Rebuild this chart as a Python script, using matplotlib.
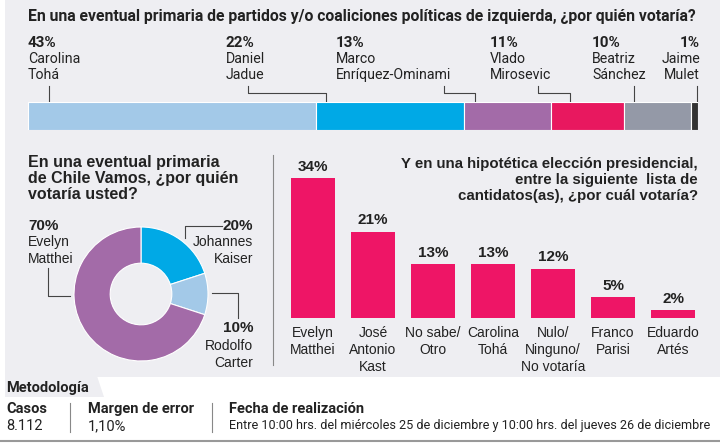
import matplotlib.pyplot as plt
from matplotlib.patches import Rectangle, Polygon

cond = ["Roboto", "DejaVu Sans"]
sf = ["Liberation Sans", "DejaVu Sans"]
plt.rcParams['font.family'] = cond

# top: primaria izquierda
izq_names = ["Carolina\nTohá", "Daniel\nJadue", "Marco\nEnríquez-Ominami",
             "Vlado\nMirosevic", "Beatriz\nSánchez", "Jaime\nMulet"]
izq_values = [43, 22, 13, 11, 10, 1]
izq_colors = ["#a3c9e8", "#00a9e6", "#a36ba8", "#e8185f", "#9499a7", "#333333"]

# donut: Chile Vamos
cv_names = ["Johannes\nKaiser", "Rodolfo\nCarter", "Evelyn\nMatthei"]
cv_values = [20, 10, 70]
cv_colors = ["#00a9e6", "#a3c9e8", "#a36ba8"]

# bars: presidencial
pres_names = ["Evelyn\nMatthei", "José\nAntonio\nKast", "No sabe/\nOtro", "Carolina\nTohá",
              "Nulo/\nNinguno/\nNo votaría", "Franco\nParisi", "Eduardo\nArtés"]
pres_values = [34, 21, 13, 13, 12, 5, 2]

W, H = 720, 446
txt = "#222222"
fig = plt.figure(figsize=(7.2, 4.46), dpi=100)

# background / overlay in pixel coords
ov = fig.add_axes([0, 0, 1, 1])
ov.set_xlim(0, W)
ov.set_ylim(H, 0)
ov.axis("off")
ov.add_patch(Rectangle((5, 0), W - 5, 377, color="#eeeef2", lw=0))
ov.add_patch(Polygon([(5, 376), (97, 376), (104, 397), (5, 397)], color="#eeeef2", lw=0))


def px(x, y, w, h):
    return [x / W, 1 - (y + h) / H, w / W, h / H]


# ---- top chart
ov.text(28, 17, "En una eventual primaria de partidos y/o coaliciones políticas de izquierda, ¿por quién votaría?",
        fontsize=11.3, fontweight="bold", color=txt, va="center")

ax1 = fig.add_axes(px(28, 102, 670, 28))
left = 0
for v, c in zip(izq_values, izq_colors):
    ax1.barh(0, v, left=left, color=c, height=1, edgecolor="white", linewidth=0.8)
    left += v
ax1.set_xlim(0, 100)
ax1.set_ylim(-0.5, 0.5)
ax1.axis("off")

lab_x = [28, 226, 336, 490, 592, 700]
lab_ha = ["left", "left", "left", "left", "left", "right"]
for name, v, x, ha in zip(izq_names, izq_values, lab_x, lab_ha):
    ov.text(x, 43, f"{v}%", fontsize=11, fontweight="bold", color=txt, ha=ha, va="center")
    ov.text(x, 52, name, fontsize=10.2, color=txt, ha=ha, va="top", linespacing=1.22)

lc = "#444444"
lw = 0.8
ov.plot([49, 49], [86, 101], color=lc, lw=lw)
ov.plot([248, 248, 326, 326], [86, 93, 93, 101], color=lc, lw=lw)
ov.plot([444, 444, 475, 475], [86, 93, 93, 101], color=lc, lw=lw)
ov.plot([538, 538, 570, 570], [86, 93, 93, 101], color=lc, lw=lw)
ov.plot([634, 634], [86, 101], color=lc, lw=lw)
ov.plot([697, 697], [86, 101], color=lc, lw=lw)

# ---- donut
ov.text(28, 155, "En una eventual primaria\nde Chile Vamos, ¿por quién\nvotaría usted?",
        fontsize=11.5, fontweight="bold", color=txt, va="top", linespacing=1.1, family=sf)
ax2 = fig.add_axes(px(141 - 67, 294 - 67, 134, 134))
ax2.pie(cv_values, colors=cv_colors, startangle=90, counterclock=False, radius=1,
        wedgeprops=dict(width=0.54, edgecolor="white", linewidth=0.8))
ax2.set_xlim(-1, 1)
ax2.set_ylim(-1, 1)

ov.text(28, 226, f"{cv_values[2]}%", fontsize=11, fontweight="bold", color=txt, va="center", family=sf)
ov.text(28, 235, cv_names[2], fontsize=10, color=txt, va="top", linespacing=1.25, family=sf)
ov.text(253, 226, f"{cv_values[0]}%", fontsize=11, fontweight="bold", color=txt, ha="right", va="center", family=sf)
ov.text(253, 235, cv_names[0], fontsize=10, color=txt, ha="right", va="top", linespacing=1.25, family=sf)
ov.text(253, 328, f"{cv_values[1]}%", fontsize=11, fontweight="bold", color=txt, ha="right", va="center", family=sf)
ov.text(253, 339, cv_names[1], fontsize=10, color=txt, ha="right", va="top", linespacing=1.25, family=sf)
ov.plot([48, 48, 70], [268, 296, 296], color=lc, lw=lw)
ov.plot([185, 185, 222], [238, 226, 226], color=lc, lw=lw)
ov.plot([212, 238, 238], [293, 293, 318], color=lc, lw=lw)

ov.plot([273, 273], [155, 365], color="#888888", lw=0.8)

# ---- presidential bars
ov.text(698, 157, "Y en una hipotética elección presidencial,\nentre la siguiente  lista de\ncantidatos(as), ¿por cuál votaría?",
        fontsize=10.8, fontweight="bold", color=txt, ha="right", va="top", linespacing=1.18, family=sf)
ax3 = fig.add_axes(px(283, 153.3, 420, 318 - 153.3))
xs = range(len(pres_values))
ax3.bar(xs, pres_values, width=0.733, color="#ee1566")
ax3.set_xlim(-0.5, len(pres_values) - 0.5)
ax3.set_ylim(0, 40)
ax3.axis("off")
for i, (v, name) in enumerate(zip(pres_values, pres_names)):
    ax3.annotate(f"{v}%", (i, v), xytext=(0, 3), textcoords="offset points", ha="center", va="bottom",
                 fontsize=11, fontweight="bold", color=txt, family=sf)
    ax3.annotate(name, (i, 0), xytext=(0, -6), textcoords="offset points", ha="center", va="top",
                 fontsize=10, color=txt, linespacing=1.25, family=sf, annotation_clip=False)

# ---- metodologia
ov.text(6, 388, "Metodología", fontsize=10.5, fontweight="bold", color=txt, va="center")
ov.text(6, 409, "Casos", fontsize=10.5, fontweight="bold", color=txt, va="center")
ov.text(6, 426, "8.112", fontsize=10.5, color=txt, va="center")
ov.text(88, 409, "Margen de error", fontsize=10.5, fontweight="bold", color=txt, va="center")
ov.text(88, 426, "1,10%", fontsize=10.5, color=txt, va="center")
ov.text(229, 409, "Fecha de realización", fontsize=10.5, fontweight="bold", color=txt, va="center")
ov.text(229, 426, "Entre 10:00 hrs. del miércoles 25 de diciembre y 10:00 hrs. del jueves 26 de diciembre",
        fontsize=9.1, color=txt, va="center")
ov.plot([70, 70], [403, 432], color="#888888", lw=0.8)
ov.plot([212, 212], [403, 432], color="#888888", lw=0.8)
ov.plot([0, W], [441, 441], color="#999999", lw=1.5)

fig.savefig("out.png", dpi=100)
